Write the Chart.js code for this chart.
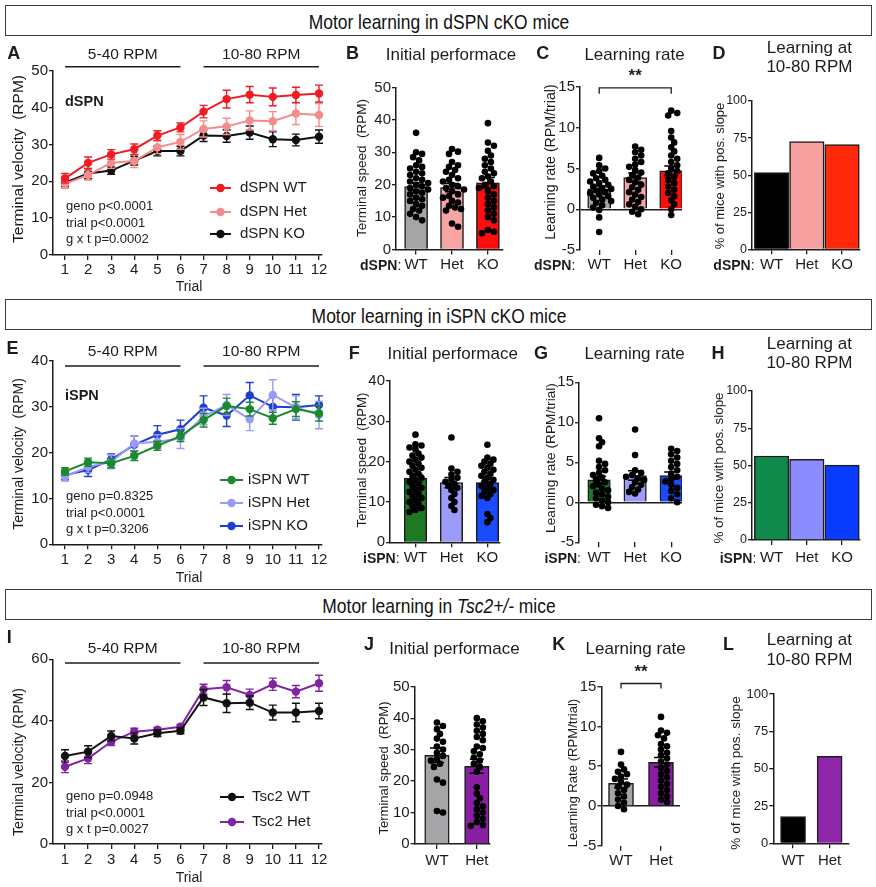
<!DOCTYPE html>
<html>
<head>
<meta charset="utf-8">
<script src="https://cdn.jsdelivr.net/npm/chart.js@4.4.1/dist/chart.umd.min.js"></script>
<style>
html,body{margin:0;padding:0;background:#fff;}
#fig{position:relative;width:876px;height:887px;overflow:hidden;background:#fff;}
canvas{position:absolute;}
</style>
</head>
<body>
<div id="fig"></div>
<script>
// ================= DATA =================
const trials = [1,2,3,4,5,6,7,8,9,10,11,12];
const rpmRanges = [{label:'5-40 RPM', from:1, to:6}, {label:'10-80 RPM', from:7, to:12}];
const geno3 = ['WT','Het','KO'];
const geno2 = ['WT','Het'];

// tick values
const ticksA = [0,10,20,30,40,50];
const ticksE = [0,10,20,30,40];
const ticksI = [0,20,40,60];
const ticksSpeed50 = [0,10,20,30,40,50];
const ticksSpeed40 = [0,10,20,30,40];
const ticksRate = [-5,0,5,10,15];
const ticksPct = [0,25,50,75,100];

// Panel A: dSPN terminal velocity (mean, SEM)
const dspnWT_mean  = [20.8,25.0,27.3,28.7,32.4,34.6,38.9,42.3,43.5,42.9,43.4,43.8];
const dspnWT_sem   = [1.3,1.6,1.3,1.4,1.3,1.2,1.7,2.4,2.2,2.4,2.1,2.3];
const dspnHet_mean = [19.3,21.7,25.0,25.5,29.2,30.7,34.2,34.9,36.5,36.3,38.4,38.0];
const dspnHet_sem  = [1.2,1.4,1.5,1.8,1.7,2.0,2.2,2.2,2.6,2.6,3.0,3.1];
const dspnKO_mean  = [19.6,22.1,22.9,25.6,28.2,28.2,32.4,32.3,33.2,31.4,31.2,32.1];
const dspnKO_sem   = [1.0,1.4,1.0,1.2,1.3,1.3,1.6,1.7,1.8,2.0,1.6,1.8];
const statsA = ['geno p<0.0001','trial p<0.0001','g x t p=0.0002'];

// Panel B: dSPN initial performance
const bMeans = [19.4,19.1,20.6];
const bSems  = [1.2,1.3,1.6];
const bWT  = [36,30,29.5,28.5,27.5,26,25.5,25,24,23.5,23,22,21.5,21,20.5,20,19.5,19,18.5,18,17.5,17,16,15.5,15,14,13.5,12.5,12,11,10,9];
const bHet = [31,30.2,29.5,27,26,25.5,24.5,24,23,22,21.5,21,20,19.5,19,18.5,18,17,16.5,16,15,14.5,13.5,13,12.5,12,8,7];
const bKO  = [39,33,32,30.5,29,28,27,26,25,24,23.5,22.5,22,21,20,19.5,19,18,17,16,15,14,13,12,11,10,9,6,5.5,5];

// Panel C: dSPN learning rate
const cMeans = [2.5,3.9,4.7];
const cSems  = [0.35,0.55,0.6];
const cWT  = [6.3,5.4,5.0,4.7,4.4,4.1,3.8,3.6,3.4,3.2,3.0,2.8,2.6,2.5,2.3,2.1,2.0,1.8,1.6,1.4,1.2,1.0,0.8,0.5,0.2,-0.1,-1.0,-2.8];
const cHet = [7.7,7.3,7.0,6.6,6.2,5.8,5.5,5.2,4.8,4.5,4.2,3.9,3.6,3.3,3.0,2.7,2.4,2.1,1.8,1.5,1.2,0.9,0.6,0.3,0.0,-0.3,-0.6];
const cKO  = [12.1,11.8,11.5,9.6,8.8,8.2,7.6,7.1,6.6,6.2,5.8,5.4,5.0,4.7,4.4,4.0,3.6,3.2,2.8,2.4,2.0,1.6,1.1,0.6,0.0,-0.7];

// Panel D: % mice with positive slope
const dPct = [51.7,72.6,70.6];

// Panel E: iSPN terminal velocity
const ispnWT_mean  = [15.9,17.9,17.7,19.3,21.5,23.6,27.1,30.2,29.5,27.5,29.5,28.6];
const ispnWT_sem   = [0.8,0.9,1.0,1.0,1.0,1.2,1.5,1.7,1.5,1.3,1.6,1.7];
const ispnHet_mean = [14.8,16.9,18.0,22.0,22.4,23.1,27.9,30.4,27.3,32.6,29.9,28.2];
const ispnHet_sem  = [1.0,1.2,1.5,1.6,1.5,2.2,1.8,2.3,2.5,3.3,2.5,3.0];
const ispnKO_mean  = [15.1,16.2,18.5,21.7,23.9,25.1,29.8,28.1,32.5,30.0,29.9,30.4];
const ispnKO_sem   = [1.0,1.4,1.2,1.9,2.0,2.0,2.6,2.4,2.8,2.3,2.8,2.0];
const statsE = ['geno p=0.8325','trial p<0.0001','g x t p=0.3206'];

// Panel F: iSPN initial performance
const fMeans = [15.9,14.8,14.8];
const fSems  = [1.0,1.3,1.2];
const fWT  = [26.7,24.3,24,23.5,23,22,21.5,21,20.5,20,19.5,19,18.5,18,17.5,17,16.5,16,15.5,15,14.5,14,13.5,13,12.5,12,11.5,11,10.5,10,9.5,9,8.5,8,7.5];
const fHet = [26,18.3,17.5,16.8,16,15.5,15,14.5,14,13.5,13,12,11,10,9,8];
const fKO  = [24.2,21,20.5,20,19.5,19,18.5,18,17.5,17,16.5,16,15.5,15,14.5,14,13.5,13,12.5,12,11.5,11,7,6,5];

// Panel G: iSPN learning rate
const gMeans = [2.8,3.35,3.35];
const gSems  = [0.45,0.6,0.45];
const gWT  = [10.5,8,7.5,7,5.2,4.8,4.4,4.0,3.7,3.4,3.1,2.8,2.5,2.2,2.0,1.7,1.5,1.2,1.0,0.7,0.5,0.2,0.0,-0.3,-0.5,-0.7];
const gHet = [9.1,5.9,4.0,3.7,3.4,3.2,3.0,2.8,2.5,2.2,1.9,1.6,1.3,1.1];
const gKO  = [6.7,6.4,6.0,5.6,5.2,4.8,4.4,4.0,3.6,3.2,2.9,2.6,2.2,1.8,1.4,1.0,0.5,0.0];

// Panel H
const hPct = [56.4,54.1,50.3];

// Panel I: Tsc2 terminal velocity
const tscWT_mean  = [28.6,30.0,35.1,34.3,36.0,36.8,47.6,45.7,45.9,42.7,42.7,43.2];
const tscWT_sem   = [2.0,1.9,1.6,1.8,1.1,1.0,2.6,3.0,2.2,2.4,3.0,2.5];
const tscHet_mean = [25.1,27.8,33.2,36.5,37.1,38.1,50.3,50.9,48.4,51.9,49.5,52.2];
const tscHet_sem  = [1.9,1.7,1.2,1.1,0.8,0.7,1.6,2.2,1.9,2.0,2.0,2.6];
const statsI = ['geno p=0.0948','trial p<0.0001','g x t p=0.0027'];

// Panel J
const jMeans = [28.2,24.7];
const jSems  = [2.3,2.2];
const jWT  = [38.6,37.5,36.5,35,33.5,32.5,31,30,29,28,27,26.5,25.5,24.5,20.5,19.5,10.5,10];
const jHet = [40,39,38,37,36,35,34,33,31,30.5,29.5,28.5,27.5,26.5,25.5,24.5,23,18,16,14.5,13,12,11,10,9,8,7,6,5.8];

// Panel K
const kMeans = [2.85,5.5];
const kSems  = [0.55,0.6];
const kWT  = [6.8,5.2,4.6,4.3,4.0,3.7,3.4,3.0,2.7,2.4,2.0,1.6,1.2,0.8,0.4,0.0,-0.4];
const kHet = [11.2,9.5,9.2,8.9,8.5,7.8,7.5,7.1,6.7,6.4,6.0,5.6,5.2,4.8,4.4,4.0,3.6,3.2,2.8,2.4,2.0,1.6,1.2,0.8,0.5];

// Panel L
const lPct = [17.9,58.3];

// ================= STYLE / HELPERS =================
const FONT = '"Liberation Sans", Arial, Helvetica, sans-serif';
const INK = '#1c1c1c';
Chart.defaults.font.family = FONT;
Chart.defaults.color = INK;
const fig = document.getElementById('fig');

function put(html, x, y, size, o = {}) {
  const d = document.createElement('div');
  const ax = o.align === 'left' ? '0%' : o.align === 'right' ? '-100%' : '-50%';
  d.style.cssText = `position:absolute;left:${x}px;top:${y}px;white-space:nowrap;line-height:1;font-family:${FONT};font-size:${size}px;font-weight:${o.bold ? 'bold' : 'normal'};color:${INK};transform:translate(${ax},-50%)${o.rot ? ' rotate(-90deg)' : ''};`;
  d.innerHTML = html;
  fig.appendChild(d);
  return d;
}
function header(top, html) {
  const b = document.createElement('div');
  b.style.cssText = `position:absolute;left:5px;top:${top}px;width:867px;height:31px;border:1.5px solid #3a3a3a;box-sizing:border-box;`;
  const s = document.createElement('div');
  s.style.cssText = `position:absolute;left:50%;top:50%;transform:translate(-50%,-50%) scaleX(0.83);font-family:${FONT};font-size:21px;white-space:nowrap;color:#111;line-height:1;`;
  s.innerHTML = html;
  b.appendChild(s);
  fig.appendChild(b);
}
function mkCanvas(b) {
  const c = document.createElement('canvas');
  const w = b.cr - b.cl, h = b.cb - b.ct;
  c.width = w; c.height = h;
  c.style.cssText = `left:${b.cl}px;top:${b.ct}px;width:${w}px;height:${h}px;`;
  fig.appendChild(c);
  return c;
}
function axisBase(tickSize, tickLen) {
  return {
    offset: false,
    grid: {display: true, offset: false, drawOnChartArea: false, drawTicks: true, tickLength: tickLen,
           color: INK, tickColor: INK, lineWidth: 1.3, tickWidth: 1.3},
    border: {display: true, color: INK, width: 1.5},
    ticks: {color: INK, font: {family: FONT, size: tickSize}, padding: 2, autoSkip: false, maxRotation: 0, minRotation: 0}
  };
}
// simple beeswarm spread (pixel based) for dot columns
function swarm(vals, pxPerUnit, pxPerCat) {
  const minD = 5.0, step = 3.0;
  const placed = [], out = new Array(vals.length);
  const idx = vals.map((v, i) => i).sort((a, b) => vals[b] - vals[a]);
  idx.forEach(i => {
    const py = vals[i] * pxPerUnit;
    let chosen = 0;
    for (let k = 0; k < 40; k++) {
      const off = k === 0 ? 0 : (k % 2 ? 1 : -1) * Math.ceil(k / 2) * step;
      if (placed.every(p => Math.hypot(p.x - off, p.y - py) >= minD)) { chosen = off; break; }
    }
    placed.push({x: chosen, y: py});
    out[i] = chosen / pxPerCat;
  });
  return out;
}

// ---------- line-error plugin ----------
const lineErr = {
  id: 'lineErr',
  afterDatasetDraw(chart, args) {
    const ds = chart.data.datasets[args.index];
    if (!ds.sem) return;
    const ctx = chart.ctx, ys = chart.scales.y;
    ctx.save();
    ctx.strokeStyle = ds.borderColor; ctx.lineWidth = 1.4;
    args.meta.data.forEach((pt, i) => {
      const v = ds.data[i].y, s = ds.sem[i];
      const x = pt.x, y1 = ys.getPixelForValue(v + s), y2 = ys.getPixelForValue(v - s);
      ctx.beginPath();
      ctx.moveTo(x, y1); ctx.lineTo(x, y2);
      ctx.moveTo(x - 4, y1); ctx.lineTo(x + 4, y1);
      ctx.moveTo(x - 4, y2); ctx.lineTo(x + 4, y2);
      ctx.stroke();
    });
    ctx.restore();
  }
};

function lineChart(o) {
  const b = o.box, a = o.area;
  const c = mkCanvas(b);
  const yW = a.l - b.cl, xH = b.cb - a.b;
  const datasets = o.series.map((s, k) => ({
    type: 'line', label: s.label,
    data: trials.map((t, i) => ({x: t, y: s.mean[i]})), sem: s.sem,
    borderColor: s.color, backgroundColor: s.color, pointBackgroundColor: s.color, pointBorderColor: s.color,
    borderWidth: 2, pointRadius: 4.2, pointBorderWidth: 0, tension: 0, clip: false, order: k
  }));
  const xs = axisBase(15, 5);
  Object.assign(xs, {type: 'linear', min: o.xMin, max: o.xMax,
    afterBuildTicks: s => { s.ticks = trials.map(v => ({value: v})); },
    afterFit: s => { s.height = xH; }});
  xs.ticks.padding = o.xPad;
  const ys = axisBase(15, 4);
  Object.assign(ys, {type: 'linear', min: 0, max: o.yMax,
    afterBuildTicks: s => { s.ticks = o.yTicks.map(v => ({value: v})); },
    afterFit: s => { s.width = yW; }});
  ys.ticks.padding = 1;
  const ann = {
    id: 'lineAnn',
    afterDraw(chart) {
      const ctx = chart.ctx, xsc = chart.scales.x, ox = b.cl, oy = b.ct;
      ctx.save();
      ctx.textBaseline = 'middle';
      rpmRanges.forEach(r => {
        const x1 = xsc.getPixelForValue(r.from), x2 = xsc.getPixelForValue(r.to);
        ctx.strokeStyle = INK; ctx.lineWidth = 1.5;
        ctx.beginPath(); ctx.moveTo(x1, o.rpmLineY - oy); ctx.lineTo(x2, o.rpmLineY - oy); ctx.stroke();
        ctx.fillStyle = INK; ctx.font = `15.5px ${FONT}`; ctx.textAlign = 'center';
        ctx.fillText(r.label, (x1 + x2) / 2, o.rpmTextY - oy);
      });
      ctx.textAlign = 'left';
      if (o.group) {
        ctx.fillStyle = INK; ctx.font = `bold 14.5px ${FONT}`;
        ctx.fillText(o.group, o.groupX - ox, o.groupY - oy);
      }
      ctx.fillStyle = INK; ctx.font = `13px ${FONT}`;
      o.stats.forEach((s, i) => ctx.fillText(s, o.statX - ox, o.statY[i] - oy));
      o.series.forEach((s, i) => {
        const y = o.legY[i] - oy;
        ctx.strokeStyle = s.color; ctx.fillStyle = s.color; ctx.lineWidth = 2;
        ctx.beginPath(); ctx.moveTo(o.legX1 - ox, y); ctx.lineTo(o.legX2 - ox, y); ctx.stroke();
        ctx.beginPath(); ctx.arc((o.legX1 + o.legX2) / 2 - ox, y, 4.2, 0, Math.PI * 2); ctx.fill();
        ctx.fillStyle = INK; ctx.font = `15px ${FONT}`;
        ctx.fillText(s.label, o.legTX - ox, y);
      });
      ctx.restore();
    }
  };
  new Chart(c, {
    type: 'line',
    data: {datasets},
    options: {
      responsive: false, animation: false, events: [],
      layout: {padding: {left: 0, top: a.t - b.ct, right: b.cr - a.r, bottom: 0}},
      plugins: {legend: {display: false}, tooltip: {enabled: false}},
      scales: {x: xs, y: ys}
    },
    plugins: [lineErr, ann]
  });
}

function barChart(o) {
  const b = o.box, a = o.area;
  const c = mkCanvas(b);
  const yW = a.l - b.cl, xH = b.cb - a.b;
  const pxPerUnit = (a.b - a.t) / (o.yMax - o.yMin);
  const pxPerCat = (a.r - a.l) / (o.xMax - o.xMin);
  const pts = [];
  if (o.points) o.points.forEach((arr, i) => {
    const off = swarm(arr, pxPerUnit, pxPerCat);
    arr.forEach((v, j) => pts.push({x: i + off[j], y: v}));
  });
  const datasets = [];
  if (pts.length) datasets.push({type: 'scatter', data: pts, pointRadius: 3.3, pointBackgroundColor: '#000',
                                 pointBorderWidth: 0, backgroundColor: '#000', order: 1, clip: false});
  datasets.push({type: 'bar', data: o.values.map((m, i) => ({x: i, y: m})), backgroundColor: o.colors,
                 borderColor: INK, borderWidth: 1.5, barThickness: o.barW, order: 2});
  const xs = axisBase(15, 5);
  Object.assign(xs, {type: 'linear', min: o.xMin, max: o.xMax,
    afterBuildTicks: s => { s.ticks = o.cats.map((v, i) => ({value: i})); },
    afterFit: s => { s.height = xH; }});
  xs.ticks.callback = v => o.cats[v];
  xs.ticks.padding = o.xPad;
  if (o.zeroLine) xs.border = {display: false};
  const ys = axisBase(o.yTickSize || 15, 4);
  Object.assign(ys, {type: 'linear', min: o.yMin, max: o.yMax,
    afterBuildTicks: s => { s.ticks = o.yTicks.map(v => ({value: v})); },
    afterFit: s => { s.width = yW; }});
  ys.ticks.padding = 1;
  if (o.zeroLine) {
    ys.grid.drawOnChartArea = true;
    ys.grid.color = ctx => (ctx.tick && ctx.tick.value === 0) ? INK : 'rgba(0,0,0,0)';
    ys.grid.lineWidth = 1.5;
  }
  const extra = {
    id: 'barExtra',
    afterDatasetsDraw(chart) {
      const ctx = chart.ctx, xsc = chart.scales.x, ysc = chart.scales.y;
      ctx.save();
      ctx.strokeStyle = '#000'; ctx.lineWidth = 1.5;
      if (o.sems) o.values.forEach((m, i) => {
        const x = xsc.getPixelForValue(i);
        const y1 = ysc.getPixelForValue(m + o.sems[i]), y2 = ysc.getPixelForValue(m - o.sems[i]);
        ctx.beginPath();
        ctx.moveTo(x, y1); ctx.lineTo(x, y2);
        ctx.moveTo(x - 7, y1); ctx.lineTo(x + 7, y1);
        ctx.moveTo(x - 7, y2); ctx.lineTo(x + 7, y2);
        ctx.stroke();
      });
      if (o.bracket) {
        const br = o.bracket;
        const x1 = xsc.getPixelForValue(br.from), x2 = xsc.getPixelForValue(br.to);
        const y = ysc.getPixelForValue(br.value);
        ctx.strokeStyle = INK; ctx.lineWidth = 1.3;
        ctx.beginPath();
        ctx.moveTo(x1, y + br.leg); ctx.lineTo(x1, y); ctx.lineTo(x2, y); ctx.lineTo(x2, y + br.leg);
        ctx.stroke();
        ctx.fillStyle = INK; ctx.font = `bold 17px ${FONT}`; ctx.textAlign = 'center'; ctx.textBaseline = 'middle';
        ctx.fillText(br.text, (x1 + x2) / 2, y - br.textUp);
      }
      ctx.restore();
    }
  };
  new Chart(c, {
    type: 'bar',
    data: {datasets},
    options: {
      responsive: false, animation: false, events: [],
      layout: {padding: {left: 0, top: a.t - b.ct, right: b.cr - a.r, bottom: 0}},
      plugins: {legend: {display: false}, tooltip: {enabled: false}},
      scales: {x: xs, y: ys}
    },
    plugins: [extra]
  });
}

// ================= COLOURS =================
const RED = '#ef1c24', PINK = '#f48c8c', BLACK = '#111111';
const GREEN = '#1b8a2c', LILAC = '#9a9af7', BLUE = '#1f3ed6';
const PURPLE = '#8124a3';

// ================= HEADERS =================
header(5, 'Motor learning in dSPN cKO mice');
header(299, 'Motor learning in iSPN cKO mice');
header(589, 'Motor learning in <i>Tsc2+/-</i> mice');

// ================= ROW 1 =================
lineChart({
  box: {cl: 0, ct: 40, cr: 332, cb: 282}, area: {l: 53, t: 70.7, r: 322, b: 255},
  xMin: 0.48, xMax: 12.13, yMax: 50, yTicks: ticksA, xPad: 1,
  series: [{label: 'dSPN WT', mean: dspnWT_mean, sem: dspnWT_sem, color: RED},
           {label: 'dSPN Het', mean: dspnHet_mean, sem: dspnHet_sem, color: PINK},
           {label: 'dSPN KO', mean: dspnKO_mean, sem: dspnKO_sem, color: BLACK}],
  rpmLineY: 66.7, rpmTextY: 55, group: 'dSPN', groupX: 65, groupY: 102,
  stats: statsA, statX: 66, statY: [206, 223, 239],
  legX1: 210, legX2: 231, legTX: 240, legY: [188, 212, 234]
});
barChart({
  box: {cl: 345, ct: 75, cr: 512, cb: 282}, area: {l: 396, t: 87.5, r: 503, b: 249.5},
  cats: geno3, values: bMeans, sems: bSems, points: [bWT, bHet, bKO],
  colors: ['#a5a5a8', '#f6a4a4', '#ff0c0c'], barW: 23, xMin: -0.56, xMax: 2.42, xPad: 1.5,
  yMin: 0, yMax: 50, yTicks: ticksSpeed50
});
barChart({
  box: {cl: 530, ct: 62, cr: 692, cb: 282}, area: {l: 580, t: 87, r: 682, b: 250},
  cats: geno3, values: cMeans, sems: cSems, points: [cWT, cHet, cKO],
  colors: ['#a5a5a8', '#f6a4a4', '#ff0c0c'], barW: 23, xMin: -0.533, xMax: 2.3, xPad: 1,
  yMin: -5, yMax: 15, yTicks: ticksRate, zeroLine: true,
  bracket: {from: 0, to: 2, value: 14.9, leg: 6, text: '**', textUp: 12}
});
barChart({
  box: {cl: 705, ct: 88, cr: 872, cb: 282}, area: {l: 752, t: 101, r: 860, b: 249.3},
  cats: geno3, values: dPct, colors: ['#000000', '#f6a0a0', '#ff2a0c'], barW: 34.5,
  xMin: -0.557, xMax: 2.51, xPad: 1.7, yMin: 0, yMax: 100, yTicks: ticksPct, yTickSize: 12.5
});

// ================= ROW 2 =================
lineChart({
  box: {cl: 0, ct: 335, cr: 332, cb: 574}, area: {l: 53, t: 361, r: 322, b: 544.3},
  xMin: 0.48, xMax: 12.13, yMax: 40, yTicks: ticksE, xPad: 1.7,
  series: [{label: 'iSPN WT', mean: ispnWT_mean, sem: ispnWT_sem, color: GREEN},
           {label: 'iSPN Het', mean: ispnHet_mean, sem: ispnHet_sem, color: LILAC},
           {label: 'iSPN KO', mean: ispnKO_mean, sem: ispnKO_sem, color: BLUE}],
  rpmLineY: 366, rpmTextY: 352, group: 'iSPN', groupX: 65, groupY: 396,
  stats: statsE, statX: 66, statY: [496, 513, 529],
  legX1: 220, legX2: 243, legTX: 248, legY: [480, 503, 526]
});
barChart({
  box: {cl: 345, ct: 368, cr: 510, cb: 574}, area: {l: 390, t: 381, r: 500, b: 542.3},
  cats: geno3, values: fMeans, sems: fSems, points: [fWT, fHet, fKO],
  colors: ['#1e7a22', '#9c9cf8', '#1a4cff'], barW: 22.5, xMin: -0.708, xMax: 2.35, xPad: 1.4,
  yMin: 0, yMax: 40, yTicks: ticksSpeed40
});
barChart({
  box: {cl: 530, ct: 370, cr: 692, cb: 574}, area: {l: 579, t: 382.3, r: 682, b: 542.3},
  cats: geno3, values: gMeans, sems: gSems, points: [gWT, gHet, gKO],
  colors: ['#1e7a22', '#9c9cf8', '#1a4cff'], barW: 22.5, xMin: -0.556, xMax: 2.3, xPad: 1.4,
  yMin: -5, yMax: 15, yTicks: ticksRate, zeroLine: true
});
barChart({
  box: {cl: 705, ct: 378, cr: 872, cb: 574}, area: {l: 752, t: 391, r: 860, b: 540},
  cats: geno3, values: hPct, colors: ['#0f8a4a', '#8a8cff', '#0a3cff'], barW: 34.5,
  xMin: -0.557, xMax: 2.51, xPad: 3.7, yMin: 0, yMax: 100, yTicks: ticksPct, yTickSize: 12.5
});

// ================= ROW 3 =================
lineChart({
  box: {cl: 0, ct: 632, cr: 332, cb: 876}, area: {l: 53, t: 659.3, r: 322, b: 844},
  xMin: 0.48, xMax: 12.13, yMax: 60, yTicks: ticksI, xPad: 2,
  series: [{label: 'Tsc2 WT', mean: tscWT_mean, sem: tscWT_sem, color: BLACK},
           {label: 'Tsc2 Het', mean: tscHet_mean, sem: tscHet_sem, color: PURPLE}],
  rpmLineY: 663, rpmTextY: 649, group: null,
  stats: statsI, statX: 66, statY: [796, 813, 829],
  legX1: 220, legX2: 244, legTX: 252, legY: [797, 822]
});
barChart({
  box: {cl: 360, ct: 672, cr: 500, cb: 878}, area: {l: 414.6, t: 686.7, r: 490, b: 844},
  cats: geno2, values: jMeans, sems: jSems, points: [jWT, jHet],
  colors: ['#a5a5a8', '#8a1ea3'], barW: 24.5, xMin: -0.56, xMax: 1.33, xPad: 2.7,
  yMin: 0, yMax: 50, yTicks: ticksSpeed50
});
barChart({
  box: {cl: 550, ct: 658, cr: 692, cb: 878}, area: {l: 601.4, t: 686.7, r: 680, b: 845.7},
  cats: geno2, values: kMeans, sems: kSems, points: [kWT, kHet],
  colors: ['#a5a5a8', '#8a1ea3'], barW: 25, xMin: -0.49, xMax: 1.475, xPad: 1,
  yMin: -5, yMax: 15, yTicks: ticksRate, zeroLine: true,
  bracket: {from: 0, to: 1, value: 15.4, leg: 5, text: '**', textUp: 11}
});
barChart({
  box: {cl: 715, ct: 680, cr: 862, cb: 878}, area: {l: 773.3, t: 694, r: 849, b: 843.3},
  cats: geno2, values: lPct, colors: ['#000000', '#8e26aa'], barW: 25,
  xMin: -0.54, xMax: 1.53, xPad: 3.4, yMin: 0, yMax: 100, yTicks: ticksPct, yTickSize: 13
});

// ================= TEXT (letters, titles, axis titles) =================
[['A', 13.7, 53], ['B', 352.6, 53], ['C', 542.8, 53], ['D', 719, 53],
 ['E', 12.5, 348], ['F', 354.3, 353], ['G', 541, 353], ['H', 718, 353],
 ['I', 9.3, 637], ['J', 369, 644], ['K', 558.8, 644], ['L', 728.4, 644]]
  .forEach(p => put(p[0], p[1], p[2], 18, {bold: true}));

put('Initial performace', 451, 54, 17);
put('Learning rate', 634.5, 54, 17);
put('Learning at', 809.4, 47, 17);
put('10-80 RPM', 809.4, 66, 17);
put('Initial performace', 452.7, 353, 17);
put('Learning rate', 634.5, 353, 17);
put('Learning at', 809.4, 342.5, 17);
put('10-80 RPM', 809.4, 362, 17);
put('Initial performace', 454.4, 648, 17);
put('Learning rate', 635.7, 648, 17);
put('Learning at', 809.4, 639, 17);
put('10-80 RPM', 809.4, 659, 17);

// y axis titles
put('Terminal velocity&nbsp;&nbsp;(RPM)', 18, 159, 15.5, {rot: true});
put('Terminal speed&nbsp;&nbsp;(RPM)', 362, 167.5, 13.5, {rot: true});
put('Learning rate (RPM/trial)', 550, 161.7, 14.2, {rot: true});
put('% of mice with pos. slope', 719, 176, 13, {rot: true});
put('Terminal velocity&nbsp;&nbsp;(RPM)', 18, 454, 14, {rot: true});
put('Terminal speed&nbsp;&nbsp;(RPM)', 362, 460, 13.2, {rot: true});
put('Learning rate (RPM/trial)', 550.5, 458, 13.7, {rot: true});
put('% of mice with pos. slope', 719, 468, 13.4, {rot: true});
put('Terminal velocity (RPM)', 18, 762, 14, {rot: true});
put('Terminal speed&nbsp;&nbsp;(RPM)', 383, 768, 13, {rot: true});
put('Learning Rate (RPM/trial)', 572.5, 772.5, 13.1, {rot: true});
put('% of mice with pos. slope', 736, 773, 13.6, {rot: true});

// x axis titles
put('Trial', 189, 286, 14);
put('Trial', 189, 576.5, 14);
put('Trial', 189, 877, 14);

// genotype prefixes
put('<b>dSPN</b>:', 401.3, 265, 14, {align: 'right'});
put('<b>dSPN</b>:', 575.3, 265, 14, {align: 'right'});
put('<b>dSPN</b>:', 754.6, 265, 14, {align: 'right'});
put('<b>iSPN</b>:', 399.6, 557.7, 14, {align: 'right'});
put('<b>iSPN</b>:', 581, 557.7, 14, {align: 'right'});
put('<b>iSPN</b>:', 756.3, 557.7, 14, {align: 'right'});
</script>
</body>
</html>
